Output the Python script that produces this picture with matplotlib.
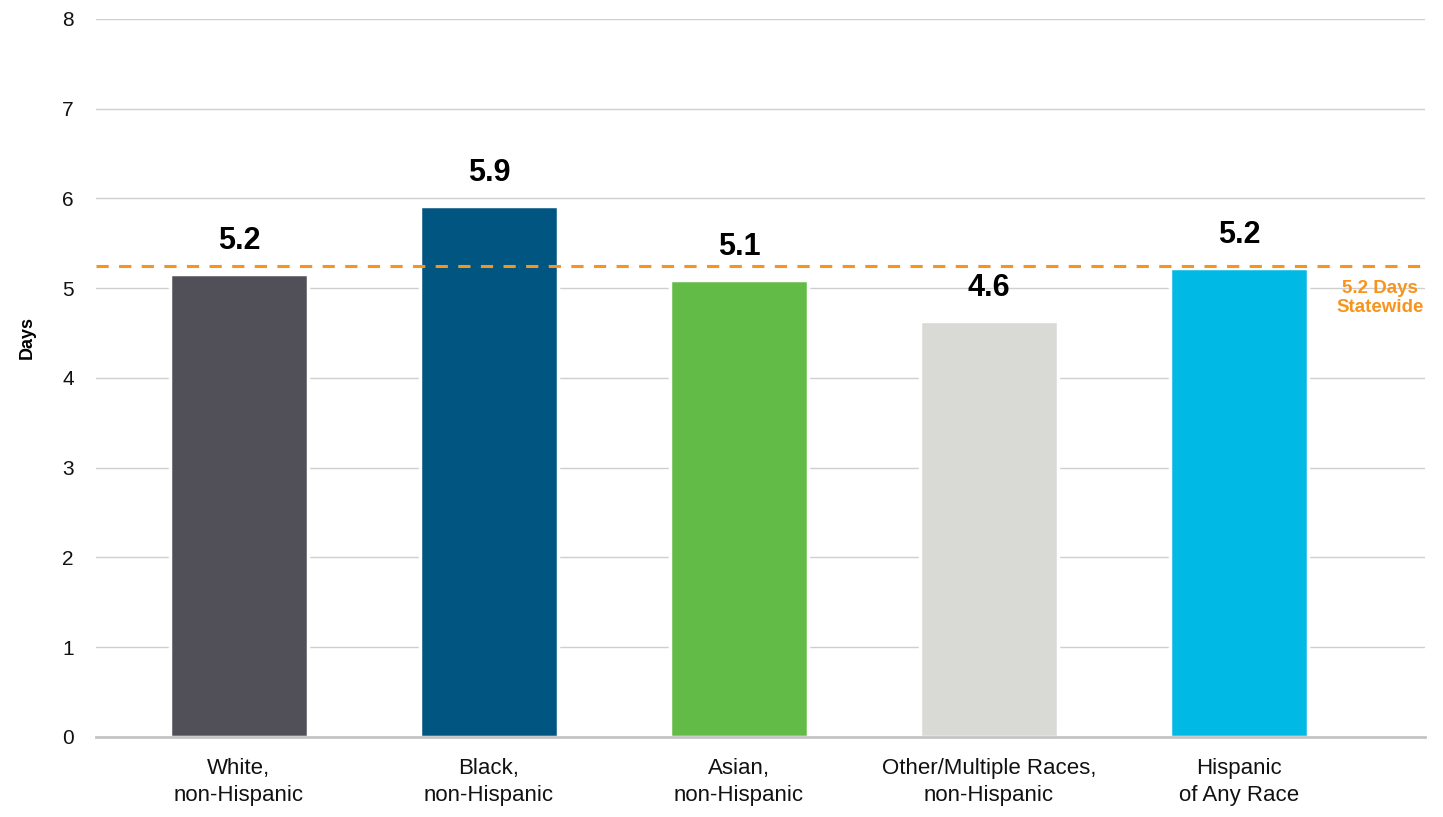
import matplotlib.pyplot as plt

plt.rcParams['font.family'] = ['Liberation Sans', 'DejaVu Sans']

# data
groups = ['White,\nnon-Hispanic', 'Black,\nnon-Hispanic', 'Asian,\nnon-Hispanic',
          'Other/Multiple Races,\nnon-Hispanic', 'Hispanic\nof Any Race']
days = [5.16, 5.91, 5.09, 4.63, 5.22]
labels = ['5.2', '5.9', '5.1', '4.6', '5.2']
colors = ['#515059', '#005581', '#62bb46', '#d9d9d6', '#00b9e4']
statewide = 5.25

fig = plt.figure(figsize=(14.43, 8.17), dpi=100)
ax = fig.add_axes([0.0665, 0.098, 0.921, 0.879])

x = list(range(len(groups)))
bars = ax.bar(x, days, width=0.55, color=colors, edgecolor='white', linewidth=2.5, zorder=2)

for xi, v, lab in zip(x, days, labels):
    ax.text(xi, v + 0.37, lab, ha='center', va='center', fontsize=22, fontweight='bold', color='black')

ax.axhline(statewide, color='#f7941d', linestyle=(0, (4, 3.4)), linewidth=2.2, zorder=3)
ax.text(4.565, 4.89, '5.2 Days\nStatewide', ha='center', va='center', fontsize=13.5,
        fontweight='bold', color='#f7941d', linespacing=1.2)

ax.set_xlim(-0.572, 4.744)
ax.set_ylim(0, 8)
ax.set_yticks(range(0, 9))
ax.set_xticks(x)
ax.set_xticklabels(groups, fontsize=16, linespacing=1.4, color='#111111')
ax.tick_params(axis='y', length=0, pad=16, labelsize=15, labelcolor='#111111')
ax.tick_params(axis='x', length=0, pad=15)
ax.grid(axis='y', color='#cfcfcf', linewidth=1, zorder=0)
ax.set_axisbelow(True)

for s in ['top', 'right', 'left']:
    ax.spines[s].set_visible(False)
ax.spines['bottom'].set_color('#c4c4c4')
ax.spines['bottom'].set_linewidth(2)
ax.spines['bottom'].set_zorder(4)

ax.set_ylabel('Days', fontsize=13, fontweight='bold')
ax.yaxis.set_label_coords(-0.045, 0.556)

plt.savefig('out.png', dpi=100)
